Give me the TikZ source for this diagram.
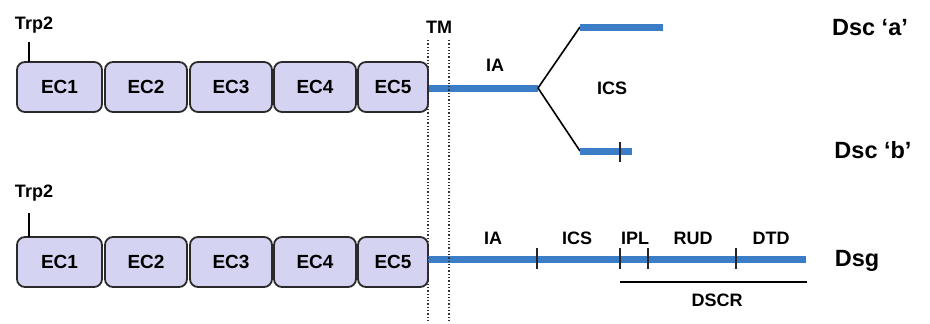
\documentclass[tikz,border=0pt]{standalone}
\usepackage{fontspec}
\setmainfont{Liberation Sans}
\definecolor{boxfill}{HTML}{D4D4F2}
\definecolor{boxline}{HTML}{2A2A2A}
\definecolor{dblue}{HTML}{3C7DC8}
\begin{document}
\begin{tikzpicture}[x=1bp,y=-1bp,
  ecbox/.style={draw=boxline, fill=boxfill, line width=1.8bp, rounded corners=8bp,
    minimum height=50bp, inner sep=0pt, font=\fontsize{19bp}{21bp}\selectfont\bfseries},
  lbl/.style={inner sep=0pt, font=\fontsize{18bp}{20bp}\selectfont\bfseries},
  big/.style={inner sep=0pt, font=\fontsize{23.5bp}{26bp}\selectfont\bfseries},
  bluebar/.style={draw=dblue, line width=7bp},
  link/.style={draw=black, line width=1.6bp},
  tickmark/.style={draw=black!85, line width=2bp},
  tmline/.style={draw=black!80, dotted, line width=1.3bp}]
\useasboundingbox (0,0) rectangle (930,323);
\fill[white] (0,0) rectangle (930,323);

% TM dotted lines
\coordinate (tmAtop) at (428,40); \coordinate (tmAbot) at (428,323);
\coordinate (tmBtop) at (449,40); \coordinate (tmBbot) at (449,323);
\node[lbl] (tm) at (439,27) {TM};

% ---------- top row ----------
\node[ecbox, minimum width=85bp] (a1) at (59.5,87) {EC1};
\node[ecbox, minimum width=82bp] (a2) at (146,87) {EC2};
\node[ecbox, minimum width=82bp] (a3) at (231,87) {EC3};
\node[ecbox, minimum width=82bp] (a4) at (315,87) {EC4};
\node[ecbox, minimum width=70bp] (a5) at (393,87) {EC5};
\node[lbl] (trpA) at (34,25) {Trp2};
\coordinate (trpAt) at (29,42); \coordinate (trpAb) at (29,62);
\draw[link] (trpAt) -- (trpAb);

\coordinate (branch) at (538,88);
\coordinate (aStart) at (580,27); \coordinate (aEnd) at (663,27);
\coordinate (bStart) at (580,151); \coordinate (bEnd) at (632,151);
\coordinate (bTickT) at (620,142); \coordinate (bTickB) at (620,162);
\draw[bluebar] (a5.east |- branch) -- (branch);
\draw[link] (branch) -- (aStart);
\draw[link] (branch) -- (bStart);
\draw[bluebar] (aStart) -- (aEnd);
\draw[bluebar] (bStart) -- (bEnd);
\draw[tickmark] (bTickT) -- (bTickB);
\node[lbl] (iaA) at (495,65) {IA};
\node[lbl] (icsA) at (612,88) {ICS};
\node[big] (dscA) at (870,28) {Dsc ‘a’};
\node[big] (dscB) at (873,150) {Dsc ‘b’};

% ---------- bottom row ----------
\node[ecbox, minimum width=85bp] (b1) at (59.5,262) {EC1};
\node[ecbox, minimum width=82bp] (b2) at (146,262) {EC2};
\node[ecbox, minimum width=82bp] (b3) at (231,262) {EC3};
\node[ecbox, minimum width=82bp] (b4) at (315,262) {EC4};
\node[ecbox, minimum width=70bp] (b5) at (393,262) {EC5};
\node[lbl] (trpB) at (34,193) {Trp2};
\coordinate (trpBt) at (29,213); \coordinate (trpBb) at (29,237);
\draw[link] (trpBt) -- (trpBb);

\coordinate (gStart) at (428,259); \coordinate (gEnd) at (806,259);
\draw[bluebar] (gStart) -- (gEnd);
\foreach \x/\n in {537/t1,620/t2,648/t3,736/t4}{
  \coordinate (\n t) at (\x,248); \coordinate (\n b) at (\x,269);
  \draw[tickmark] (\n t) -- (\n b);
}
\node[lbl] (iaB) at (493,238) {IA};
\node[lbl] (icsB) at (577,238) {ICS};
\node[lbl] (iplB) at (635,238) {IPL};
\node[lbl] (rudB) at (693,238) {RUD};
\node[lbl] (dtdB) at (771,238) {DTD};
\node[big] (dsg) at (857,261) {Dsg};
\coordinate (dscrL) at (620,282); \coordinate (dscrR) at (807,282);
\draw[link] (dscrL) -- (dscrR);
\node[lbl] (dscr) at (717,300) {DSCR};

\draw[tmline] (tmAtop) -- (tmAbot);
\draw[tmline] (tmBtop) -- (tmBbot);
\end{tikzpicture}
\end{document}
